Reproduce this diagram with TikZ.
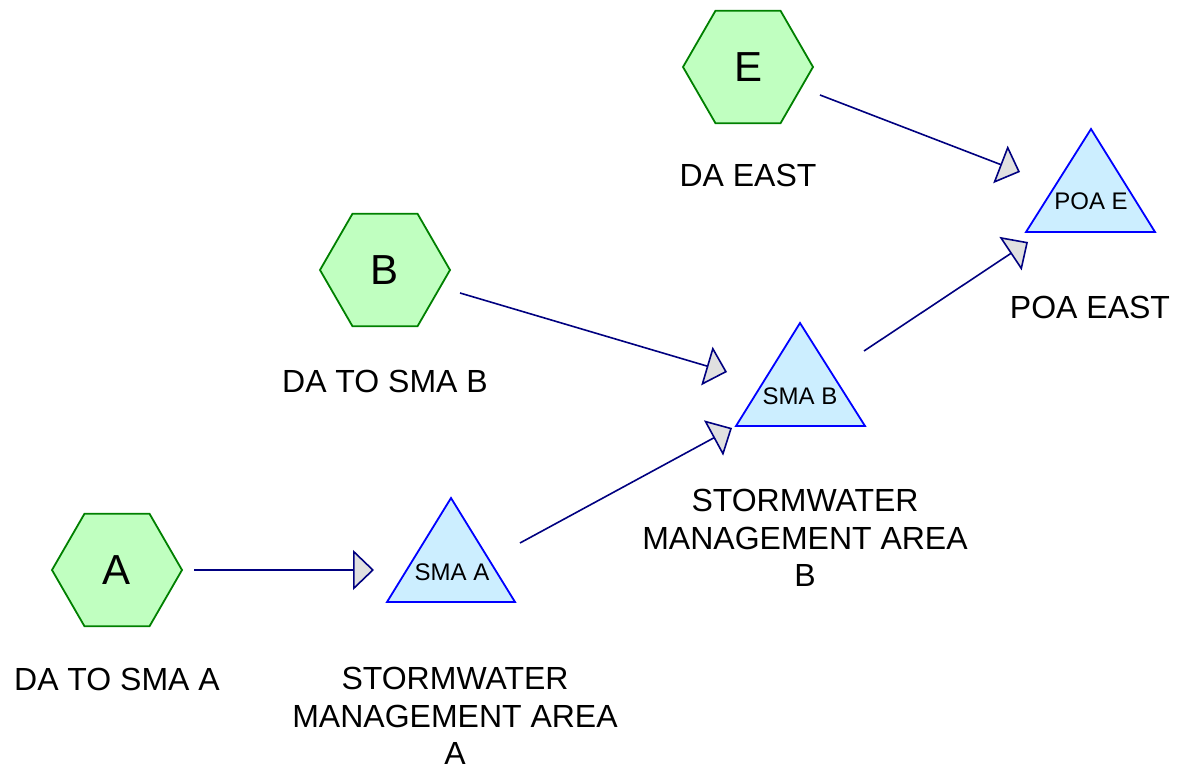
\documentclass[tikz,border=0pt]{standalone}
\usepackage{fontspec}
\setmainfont{Liberation Sans}
\usetikzlibrary{shapes.geometric,arrows.meta}
\definecolor{hexfill}{RGB}{192,255,192}
\definecolor{hexline}{RGB}{0,128,0}
\definecolor{trifill}{RGB}{204,238,255}
\definecolor{triline}{RGB}{0,0,255}
\definecolor{arrline}{RGB}{0,0,128}
\definecolor{headfill}{RGB}{224,224,224}
\begin{document}
\begin{tikzpicture}[x=1pt,y=-1pt,
  hexnode/.style={regular polygon,regular polygon sides=6,minimum size=130pt,inner sep=0pt,outer sep=0pt,draw=hexline,fill=hexfill,line width=1.8pt,font=\fontsize{42}{48}\selectfont},
  trishape/.style={draw=triline,fill=trifill,line width=1.8pt,line join=miter},
  tritext/.style={inner sep=0pt,font=\fontsize{24}{28}\selectfont},
  lbl/.style={inner sep=0pt,font=\fontsize{32}{37.5}\selectfont,align=center},
  flow/.style={draw=arrline,line width=1.6pt,-{Triangle[length=21pt,width=40pt,fill=headfill]}}]
\useasboundingbox[fill=white] (0,0) rectangle (1183,783);

% hexagons
\node[hexnode] (A) at (117,570) {A};
\node[hexnode] (B) at (385,270) {B};
\node[hexnode] (E) at (748,67) {E};

% triangles
\coordinate (smaA-t) at (451,498);
\coordinate (smaA-r) at (515,602);
\coordinate (smaA-l) at (387,602);
\draw[trishape] (smaA-t) -- (smaA-r) -- (smaA-l) -- cycle;
\node[tritext] (smaA) at (452,572) {SMA A};

\coordinate (smaB-t) at (800,323);
\coordinate (smaB-r) at (865,426);
\coordinate (smaB-l) at (736,426);
\draw[trishape] (smaB-t) -- (smaB-r) -- (smaB-l) -- cycle;
\node[tritext] (smaB) at (800,396) {SMA B};

\coordinate (poa-t) at (1091,129);
\coordinate (poa-r) at (1155,232);
\coordinate (poa-l) at (1026,232);
\draw[trishape] (poa-t) -- (poa-r) -- (poa-l) -- cycle;
\node[tritext] (poa) at (1091,201) {POA E};

% labels
\node[lbl] (lA) at (117,679.5) {DA TO SMA A};
\node[lbl,anchor=north] (lsmaA) at (455,667) {STORMWATER\\MANAGEMENT AREA\\A};
\node[lbl] (lB) at (385,381) {DA TO SMA B};
\node[lbl,anchor=north] (lsmaB) at (805,489) {STORMWATER\\MANAGEMENT AREA\\B};
\node[lbl] (lE) at (748,175) {DA EAST};
\node[lbl] (lpoa) at (1090,307) {POA EAST};

% connector end points
\coordinate (A-o) at (194,570);
\coordinate (smaA-i) at (374,570);
\coordinate (B-o) at (460,293);
\coordinate (smaB-i1) at (727,372);
\coordinate (smaA-o) at (520,543);
\coordinate (smaB-i2) at (732,428);
\coordinate (E-o) at (820,95);
\coordinate (poa-i1) at (1020,172);
\coordinate (smaB-o) at (864,351);
\coordinate (poa-i2) at (1028,242);

\draw[flow] (A-o) -- (smaA-i);
\draw[flow] (B-o) -- (smaB-i1);
\draw[flow] (smaA-o) -- (smaB-i2);
\draw[flow] (E-o) -- (poa-i1);
\draw[flow] (smaB-o) -- (poa-i2);
\end{tikzpicture}
\end{document}
